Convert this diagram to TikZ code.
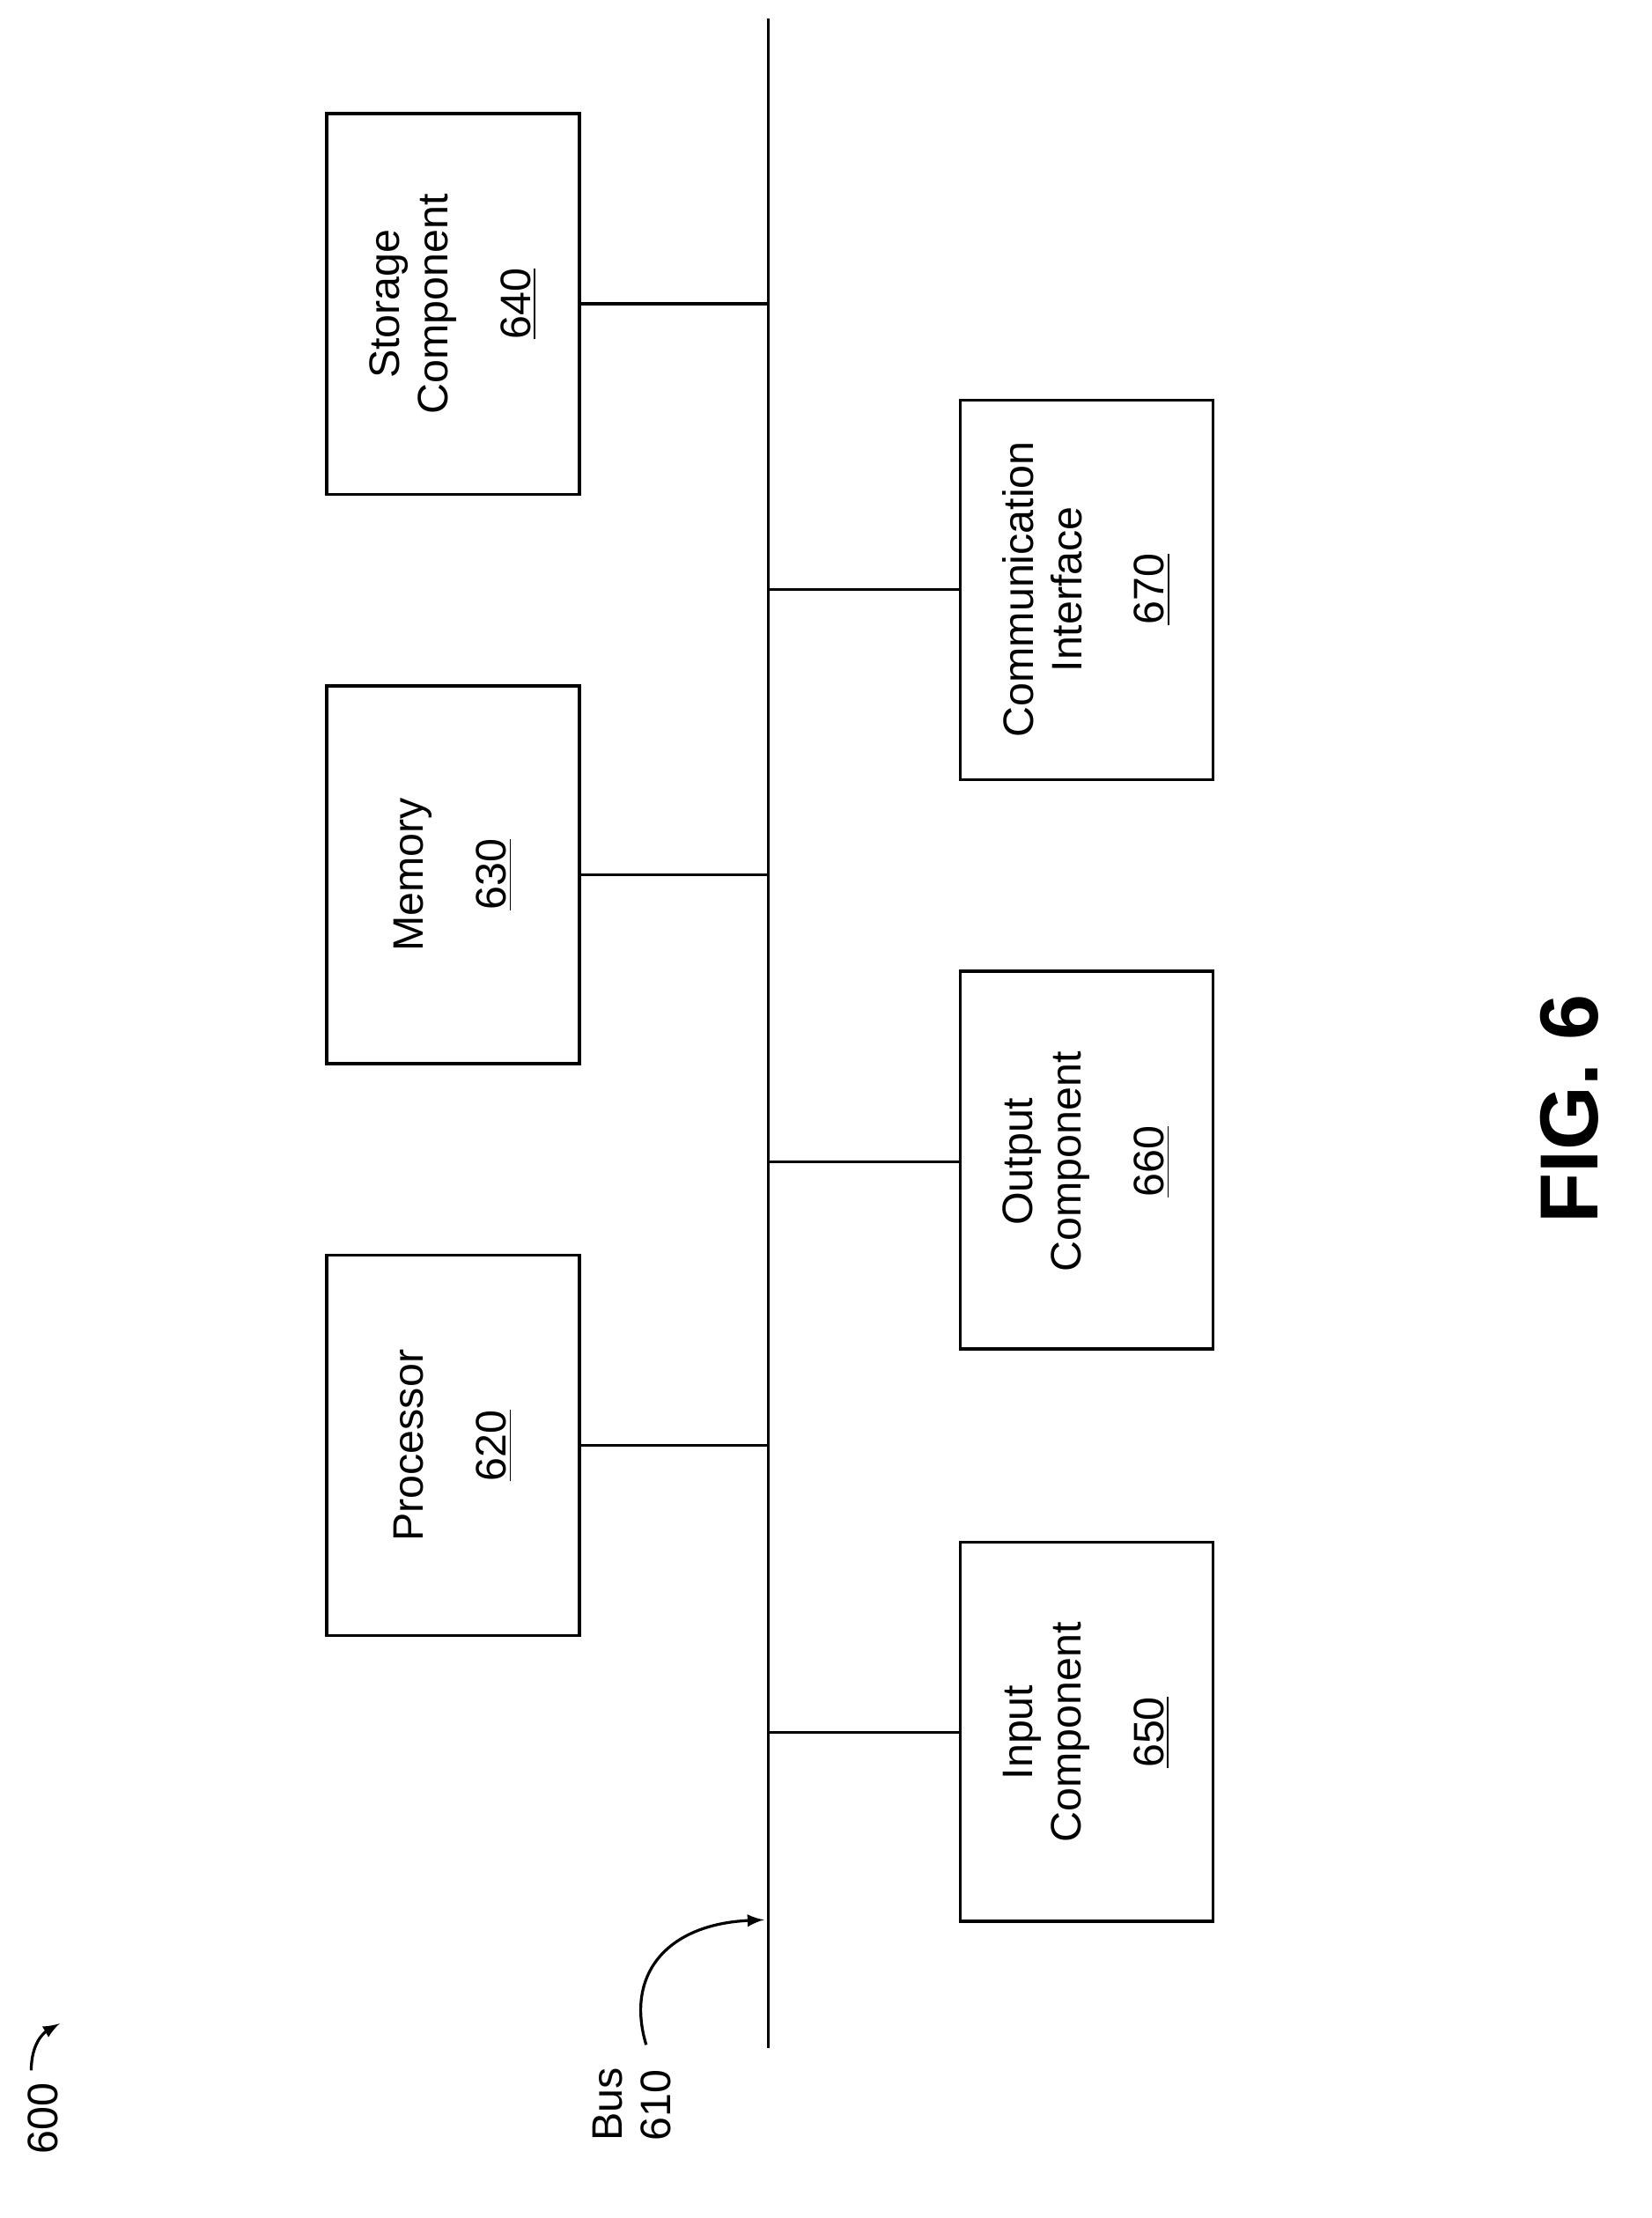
\documentclass[tikz,border=0pt]{standalone}
\usepackage{fontspec}
\setmainfont{Liberation Sans}
\begin{document}
\begin{tikzpicture}[x=0.5pt,y=-0.5pt,
 box/.style={draw,line width=1pt},
 lbl/.style={rotate=90,align=center,font=\fontsize{15}{17}\selectfont},
 ln/.style={line width=1pt}]
\useasboundingbox (0,0) rectangle (1163,1562);
\draw[box] (230,80) rectangle (408,348); \node[lbl] (s) at (319,214) {Storage\\Component\\[12pt]\underline{640}};
\draw[box] (230,483) rectangle (408,749); \node[lbl] (m) at (319,616) {Memory\\[12pt]\underline{630}};
\draw[box] (230,884) rectangle (408,1152); \node[lbl] (p) at (319,1018) {Processor\\[12pt]\underline{620}};
\draw[box] (676,1086) rectangle (854,1353); \node[lbl] (i) at (765,1220) {Input\\Component\\[12pt]\underline{650}};
\draw[box] (676,684) rectangle (854,950); \node[lbl] (o) at (765,818) {Output\\Component\\[12pt]\underline{660}};
\draw[box] (676,282) rectangle (854,549); \node[lbl] (c) at (765,415) {Communication\\Interface\\[12pt]\underline{670}};
\coordinate (bt) at (541,13); \coordinate (bb) at (541,1442);
\draw[ln] (bt) -- (bb);
\draw[ln] (408,214) -- (541,214);
\draw[ln] (408,616) -- (541,616);
\draw[ln] (408,1018) -- (541,1018);
\draw[ln] (541,1220) -- (676,1220);
\draw[ln] (541,818) -- (676,818);
\draw[ln] (541,415) -- (676,415);
\node[lbl,align=left] (bus) at (445,1482) {Bus\\610};
\draw[ln,-latex] (455,1440) .. controls (440,1390) and (470,1355) .. (538,1352);
\node[lbl] (n600) at (30,1492) {600};
\draw[ln,-latex] (22,1458) .. controls (22,1440) and (30,1432) .. (42,1425);
\node[rotate=90,font=\bfseries\fontsize{29}{32}\selectfont] (fig) at (1105,781) {FIG. 6};
\end{tikzpicture}
\end{document}
